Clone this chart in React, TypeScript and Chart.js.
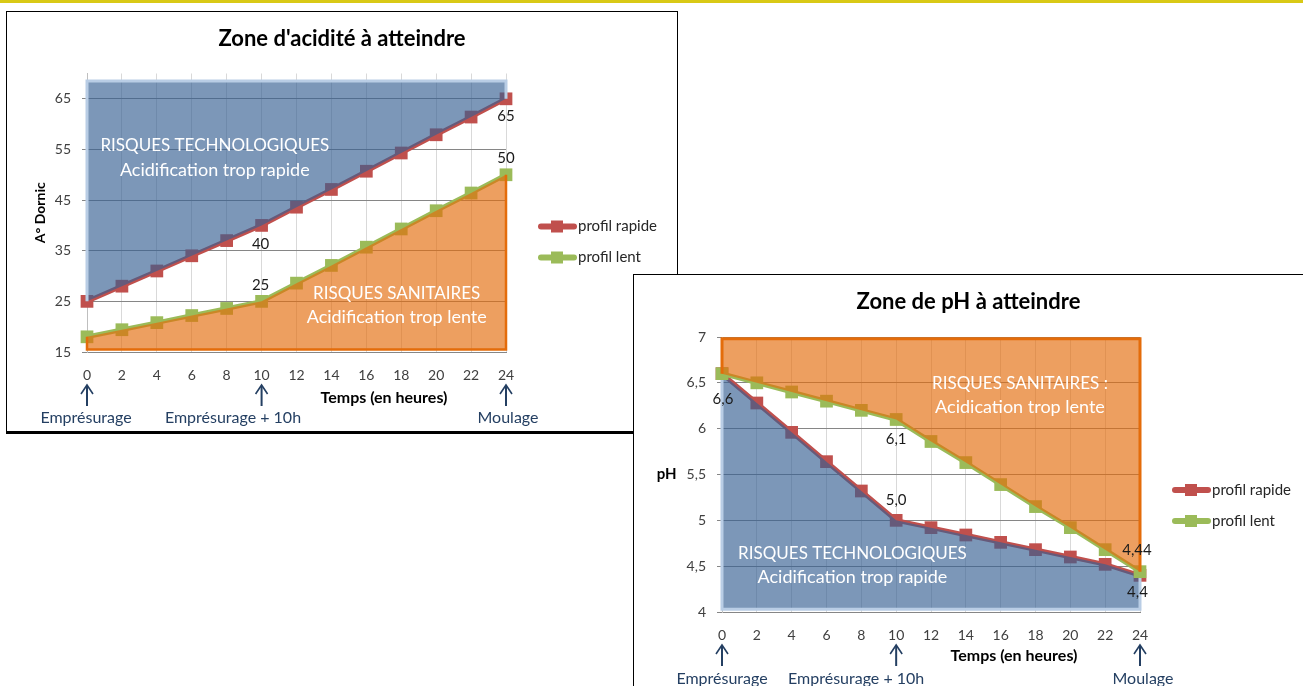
import React, { useEffect, useRef } from 'react';
import { Chart, registerables } from 'chart.js';

Chart.register(...registerables);
Chart.defaults.font.family = 'Lato';

// ---------- Data ----------
const heures = [0, 2, 4, 6, 8, 10, 12, 14, 16, 18, 20, 22, 24];

// Acidité (°Dornic)
const dornicRapide = [25, 28, 31, 34, 37, 40, 43.6, 47.1, 50.7, 54.3, 57.9, 61.4, 65];
const dornicLent = [18, 19.4, 20.8, 22.2, 23.6, 25, 28.6, 32.1, 35.7, 39.3, 42.9, 46.4, 50];
const dornicTicks = [15, 25, 35, 45, 55, 65];
const dornicLimiteHaute = 68.5;
const dornicLimiteBasse = 15.5;

// pH
const phRapide = [6.6, 6.28, 5.96, 5.64, 5.32, 5.0, 4.92, 4.84, 4.76, 4.68, 4.6, 4.52, 4.4];
const phLent = [6.6, 6.5, 6.4, 6.3, 6.2, 6.1, 5.86, 5.63, 5.39, 5.15, 4.92, 4.68, 4.44];
const phTicks = [4, 4.5, 5, 5.5, 6, 6.5, 7];
const phLimiteHaute = 6.98;
const phLimiteBasse = 4.03;

const seriesLabels = ['profil rapide', 'profil lent'];
const repereHeures = [0, 10, 24];
const repereTextes = ['Emprésurage', 'Emprésurage + 10h', 'Moulage'];

// ---------- Styles ----------
const RED = '#c0504d';
const GREEN = '#9bbb59';
const BLUE_FILL = 'rgba(54,96,146,0.65)';
const BLUE_EDGE = '#b9cde5';
const ORANGE_FILL = 'rgba(228,108,10,0.65)';
const ORANGE_EDGE = '#e46c0a';
const NAVY = '#243f62';

const fmt = (v: number, d: number) => v.toFixed(d).replace('.', ',');
const pts = (serie: number[]) => heures.map((h, i) => ({ x: h, y: serie[i] }));

// outer edges of a zone: left side, limit line, right side
function edgePoints(serie: number[], limite: number) {
  const last = heures.length - 1;
  return [
    { x: heures[0], y: serie[0] },
    { x: heures[0], y: limite },
    { x: heures[last], y: limite },
    { x: heures[last], y: serie[last] },
  ];
}

function lineDataset(label: string, serie: number[], color: string, order: number) {
  return {
    type: 'line',
    label,
    data: pts(serie),
    borderColor: color,
    backgroundColor: color,
    pointBackgroundColor: color,
    borderWidth: 4.5,
    pointStyle: 'rect',
    pointRadius: 9,
    pointBorderWidth: 0,
    tension: 0,
    fill: false,
    clip: false,
    order,
  };
}

function zoneFillDataset(label: string, serie: number[], limite: number, fillColor: string, order: number) {
  return {
    type: 'line',
    label,
    data: pts(serie),
    fill: { value: limite },
    backgroundColor: fillColor,
    borderColor: 'rgba(0,0,0,0)',
    borderWidth: 0,
    pointRadius: 0,
    tension: 0,
    order,
  };
}

function zoneEdgeDataset(label: string, serie: number[], limite: number, color: string, width: number, order: number) {
  return {
    type: 'line',
    label,
    data: edgePoints(serie, limite),
    fill: false,
    borderColor: color,
    borderWidth: width,
    pointRadius: 0,
    tension: 0,
    clip: false,
    order,
  };
}

interface DecorCfg {
  zones: { lines: string[]; x: number; y: number }[];
  labels: { ds: number; i: number; text: string; dx: number; dy: number }[];
  legend: number[];
  xTitle: { text: string; dx: number; dy: number };
  sideTitle?: { text: string; dx: number };
  marks: { hour: number; text: string; dx: number }[];
  markTextDy: number;
}

function makeDecor(cfg: DecorCfg) {
  return {
    id: 'decor',
    afterDraw(chart: any) {
      const { ctx, chartArea: ca, scales } = chart;
      const x = scales.x;
      const y = scales.y;
      ctx.save();
      ctx.textAlign = 'center';
      ctx.textBaseline = 'middle';

      // zone texts
      ctx.fillStyle = '#ffffff';
      for (const z of cfg.zones) {
        const px = x.getPixelForValue(z.x);
        const py = y.getPixelForValue(z.y);
        z.lines.forEach((t, k) => {
          ctx.font = k === 0 ? '17px Lato' : '18px Lato';
          ctx.fillText(t, px, py + k * 24);
        });
      }

      // data labels
      ctx.font = '15px Lato';
      ctx.fillStyle = '#1a1a1a';
      for (const l of cfg.labels) {
        const el = chart.getDatasetMeta(l.ds).data[l.i];
        ctx.fillText(l.text, el.x + l.dx, el.y + l.dy);
      }

      // legend
      cfg.legend.forEach((dsIndex, k) => {
        const ds = chart.data.datasets[dsIndex];
        const lx = ca.right + 32;
        const ly = ca.top + 153 + k * 31;
        ctx.strokeStyle = ds.borderColor;
        ctx.lineWidth = 6;
        ctx.lineCap = 'round';
        ctx.beginPath();
        ctx.moveTo(lx + 3, ly);
        ctx.lineTo(lx + 36, ly);
        ctx.stroke();
        ctx.fillStyle = ds.borderColor;
        ctx.fillRect(lx + 13, ly - 6, 12, 12);
        ctx.fillStyle = '#262626';
        ctx.font = '15px Lato';
        ctx.textAlign = 'left';
        ctx.fillText(ds.label, lx + 40, ly);
        ctx.textAlign = 'center';
      });

      // axis titles drawn beside the axes
      ctx.font = 'bold 16px Lato';
      ctx.fillStyle = '#000';
      ctx.fillText(cfg.xTitle.text, ca.left + cfg.xTitle.dx, ca.bottom + cfg.xTitle.dy);
      if (cfg.sideTitle) {
        ctx.font = 'bold 15px Lato';
        ctx.fillText(cfg.sideTitle.text, ca.left + cfg.sideTitle.dx, (ca.top + ca.bottom) / 2);
      }

      // arrows + annotations
      ctx.strokeStyle = NAVY;
      ctx.fillStyle = NAVY;
      ctx.lineCap = 'butt';
      ctx.font = '16px Lato';
      for (const m of cfg.marks) {
        const px = x.getPixelForValue(m.hour);
        const top = ca.bottom + 33;
        const bot = ca.bottom + 54;
        ctx.lineWidth = 2;
        ctx.beginPath();
        ctx.moveTo(px, bot);
        ctx.lineTo(px, top + 1);
        ctx.stroke();
        ctx.lineWidth = 1.6;
        ctx.beginPath();
        ctx.moveTo(px - 6, top + 9);
        ctx.lineTo(px, top);
        ctx.lineTo(px + 6, top + 9);
        ctx.stroke();
        ctx.fillText(m.text, px + m.dx, ca.bottom + cfg.markTextDy);
      }
      ctx.restore();
    },
  };
}

const tickFont = { family: 'Lato', size: 14 };
const tickColor = '#404040';

// invisible right-hand axis that reserves the room used by the legend
function legendSpace(width: number) {
  return {
    position: 'right',
    display: true,
    ticks: { display: false },
    grid: { display: false, drawTicks: false },
    border: { display: false },
    afterFit: (s: any) => { s.width = width; },
  };
}

function buildDornic(): any {
  const cfg: DecorCfg = {
    zones: [
      { lines: ['RISQUES TECHNOLOGIQUES', 'Acidification trop rapide'], x: 7.32, y: 55.68 },
      { lines: ['RISQUES SANITAIRES', 'Acidification trop lente'], x: 17.74, y: 26.6 },
    ],
    labels: [
      { ds: 0, i: 12, text: fmt(dornicRapide[12], 0), dx: 0, dy: 17 },
      { ds: 1, i: 12, text: fmt(dornicLent[12], 0), dx: 0, dy: -16.5 },
      { ds: 0, i: 5, text: fmt(dornicRapide[5], 0), dx: -1, dy: 19 },
      { ds: 1, i: 5, text: fmt(dornicLent[5], 0), dx: -1, dy: -16.5 },
    ],
    legend: [0, 1],
    xTitle: { text: 'Temps (en heures)', dx: 297, dy: 46 },
    marks: repereHeures.map((h, k) => ({ hour: h, text: repereTextes[k], dx: [-1, -28.6, 2][k] })),
    markTextDy: 66,
  };
  return {
    type: 'line',
    data: {
      datasets: [
        lineDataset(seriesLabels[0], dornicRapide, RED, 3),
        lineDataset(seriesLabels[1], dornicLent, GREEN, 6),
        zoneFillDataset('zone technologique', dornicRapide, dornicLimiteHaute, BLUE_FILL, 2),
        zoneEdgeDataset('bord technologique', dornicRapide, dornicLimiteHaute, BLUE_EDGE, 3, 1),
        zoneFillDataset('zone sanitaire', dornicLent, dornicLimiteBasse, ORANGE_FILL, 5),
        zoneEdgeDataset('bord sanitaire', dornicLent, dornicLimiteBasse, ORANGE_EDGE, 2.5, 4),
      ],
    },
    options: {
      responsive: false,
      animation: false,
      devicePixelRatio: 1,
      events: [],
      layout: { padding: 0 },
      plugins: {
        legend: { display: false },
        tooltip: { enabled: false },
        title: {
          display: true,
          text: "Zone d'acidité à atteindre",
          color: '#000',
          font: { family: 'Lato', size: 22, weight: 'bold', lineHeight: 1.2 },
          padding: { top: 14.2, bottom: 20.9 },
        },
      },
      scales: {
        x: {
          type: 'linear',
          min: 0,
          max: 24,
          ticks: { stepSize: 2, color: tickColor, font: tickFont, padding: 15 },
          grid: { color: '#d9d9d9', drawTicks: false },
          border: { color: '#868686' },
          afterFit: (s: any) => { s.height = 79; },
        },
        y: {
          type: 'linear',
          min: 15,
          max: 70,
          afterBuildTicks: (a: any) => { a.ticks = dornicTicks.map((v) => ({ value: v })); },
          ticks: { color: tickColor, font: tickFont, padding: 11 },
          grid: { color: '#868686', tickLength: 5 },
          border: { color: '#bfbfbf' },
          title: {
            display: true,
            text: 'A° Dornic',
            color: '#000',
            font: { family: 'Lato', size: 14, weight: 'bold', lineHeight: 1.2 },
            padding: { top: 24.6, bottom: 0 },
          },
          afterFit: (s: any) => { s.width = 80; },
        },
        legendSpace: legendSpace(171),
      },
    },
    plugins: [makeDecor(cfg)],
  };
}

function buildPh(): any {
  const cfg: DecorCfg = {
    zones: [
      { lines: ['RISQUES SANITAIRES :', 'Acidication trop lente'], x: 17.11, y: 6.495 },
      { lines: ['RISQUES TECHNOLOGIQUES', 'Acidification trop rapide'], x: 7.49, y: 4.64 },
    ],
    labels: [
      { ds: 0, i: 0, text: fmt(phRapide[0], 1), dx: 1, dy: 25 },
      { ds: 1, i: 5, text: fmt(phLent[5], 1), dx: 0, dy: 20 },
      { ds: 0, i: 5, text: fmt(phRapide[5], 1), dx: 0, dy: -20 },
      { ds: 1, i: 12, text: fmt(phLent[12], 2), dx: -3, dy: -21.5 },
      { ds: 0, i: 12, text: fmt(phRapide[12], 1), dx: -2.5, dy: 16.5 },
    ],
    legend: [0, 1],
    xTitle: { text: 'Temps (en heures)', dx: 292, dy: 44 },
    sideTitle: { text: 'pH', dx: -55.3 },
    marks: repereHeures.map((h, k) => ({ hour: h, text: repereTextes[k], dx: [0, -40, 3][k] })),
    markTextDy: 67,
  };
  return {
    type: 'line',
    data: {
      datasets: [
        lineDataset(seriesLabels[0], phRapide, RED, 6),
        lineDataset(seriesLabels[1], phLent, GREEN, 3),
        zoneFillDataset('zone technologique', phRapide, phLimiteBasse, BLUE_FILL, 5),
        zoneEdgeDataset('bord technologique', phRapide, phLimiteBasse, BLUE_EDGE, 3, 4),
        zoneFillDataset('zone sanitaire', phLent, phLimiteHaute, ORANGE_FILL, 2),
        zoneEdgeDataset('bord sanitaire', phLent, phLimiteHaute, ORANGE_EDGE, 3, 1),
      ],
    },
    options: {
      responsive: false,
      animation: false,
      devicePixelRatio: 1,
      events: [],
      layout: { padding: 0 },
      plugins: {
        legend: { display: false },
        tooltip: { enabled: false },
        title: {
          display: true,
          text: 'Zone de pH à atteindre',
          color: '#000',
          font: { family: 'Lato', size: 22, weight: 'bold', lineHeight: 1.2 },
          padding: { top: 13.5, bottom: 22.1 },
        },
      },
      scales: {
        x: {
          type: 'linear',
          min: 0,
          max: 24,
          ticks: { stepSize: 2, color: tickColor, font: tickFont, padding: 15 },
          grid: { color: '#d9d9d9', drawTicks: false },
          border: { color: '#868686' },
          afterFit: (s: any) => { s.height = 74; },
        },
        y: {
          type: 'linear',
          min: 4,
          max: 7,
          afterBuildTicks: (a: any) => { a.ticks = phTicks.map((v) => ({ value: v })); },
          ticks: {
            color: tickColor,
            font: tickFont,
            padding: 11,
            callback: (v: any) => String(v).replace('.', ','),
          },
          grid: { color: '#868686', tickLength: 5 },
          border: { color: '#bfbfbf' },
          afterFit: (s: any) => { s.width = 88; },
        },
        legendSpace: legendSpace(163),
      },
    },
    plugins: [makeDecor(cfg)],
  };
}

export default function App() {
  const leftRef = useRef<HTMLCanvasElement>(null);
  const rightRef = useRef<HTMLCanvasElement>(null);

  useEffect(() => {
    const c1 = new Chart(leftRef.current as HTMLCanvasElement, buildDornic());
    const c2 = new Chart(rightRef.current as HTMLCanvasElement, buildPh());
    return () => {
      c1.destroy();
      c2.destroy();
    };
  }, []);

  return (
    <div style={{ position: 'fixed', left: 0, top: 0, width: 1303, height: 686, background: '#fff', overflow: 'hidden' }}>
      <div style={{ position: 'absolute', left: 0, top: 0, width: 1303, height: 3, background: '#d9c916' }} />
      <div
        style={{
          position: 'absolute', left: 6, top: 11, width: 672, height: 423, boxSizing: 'border-box',
          borderStyle: 'solid', borderColor: '#000', borderWidth: '1px 1px 3px 1px', background: '#fff',
        }}
      >
        <canvas ref={leftRef} width={670} height={419} style={{ display: 'block' }} />
      </div>
      <div
        style={{
          position: 'absolute', left: 633, top: 274, width: 670, height: 412, boxSizing: 'border-box',
          borderStyle: 'solid', borderColor: '#000', borderWidth: '1px 0 0 1px', background: '#fff',
        }}
      >
        <canvas ref={rightRef} width={669} height={411} style={{ display: 'block' }} />
      </div>
    </div>
  );
}
